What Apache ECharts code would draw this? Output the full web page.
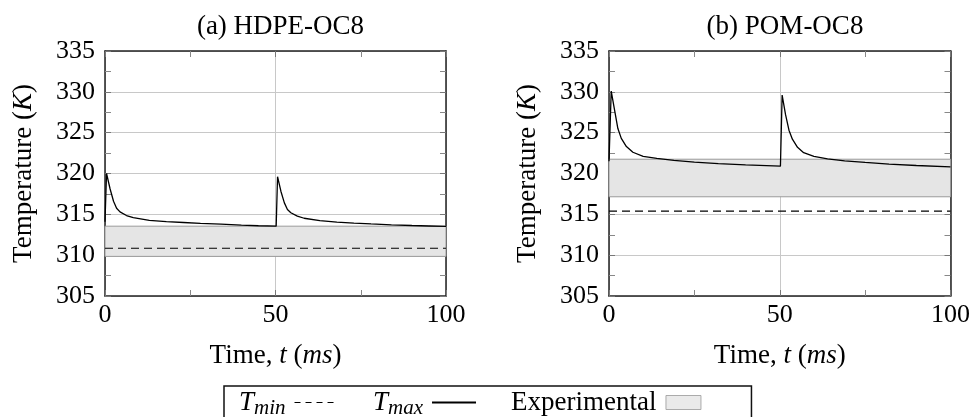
<!DOCTYPE html>
<html>
<head>
<meta charset="utf-8">
<script src="https://cdn.jsdelivr.net/npm/echarts@6/dist/echarts.min.js"></script>
<style>
  html, body { margin: 0; padding: 0; background: #fff; }
  #chart { width: 973px; height: 417px; }
</style>
</head>
<body>
<div id="chart"></div>
<script>
// (a) HDPE-OC8 : time (ms) and max temperature (K)
const hdpeTime = [0, 0.45, 1.5, 2.5, 3.4, 4.4, 6.3, 8.3, 13, 18, 23, 28, 34, 40, 45, 50.2,
  50.6, 51.6, 52.6, 53.5, 54.5, 56.4, 58.4, 63, 68, 73, 78, 84, 90, 95, 100]
const hdpeTmax = [314.1, 320.0, 318.1, 316.6, 315.75, 315.3, 314.85, 314.6, 314.27, 314.1, 314.0, 313.9, 313.8, 313.68, 313.6, 313.55,
  319.6, 317.8, 316.4, 315.6, 315.2, 314.78, 314.52, 314.22, 314.05, 313.92, 313.82, 313.72, 313.63, 313.57, 313.52]
const hdpeTmin = 310.85
const hdpeExp = [309.85, 313.55]

// (b) POM-OC8
const pomTime = [0, 0.65, 1.7, 2.6, 3.6, 5.1, 7, 10, 14, 19, 25, 32, 40, 50.2,
  50.7, 51.7, 52.7, 53.7, 55.2, 57, 60, 64, 69, 75, 82, 90, 100]
const pomTmax = [321.5, 330.1, 327.6, 325.5, 324.3, 323.3, 322.6, 322.1, 321.85, 321.6, 321.4, 321.2, 321.05, 320.9,
  329.6, 327.2, 325.3, 324.2, 323.2, 322.55, 322.1, 321.8, 321.55, 321.35, 321.15, 320.98, 320.8]
const pomTmin = 315.4
const pomExp = [317.15, 321.75]

const titles = ['(a) HDPE-OC8', '(b) POM-OC8']
const xTicks = [0, 50, 100]
const yRange = [305, 335]

const FONT = '"Liberation Serif", "DejaVu Serif", serif'
const FS = 26
const FN = 27

const chart = echarts.init(document.getElementById('chart'))

const grids = [
  { left: 105, right: 527, top: 51, height: 245 },
  { left: 609, right: 22, top: 51, height: 245 }
]

const tickStyle = { show: true, inside: true, length: 6, lineStyle: { color: '#777', width: 1 } }
const minorStyle = { show: true, splitNumber: 2, length: 6, lineStyle: { color: '#888', width: 1 } }
const borderLine = { show: true, onZero: false, lineStyle: { color: '#222', width: 1.5 } }
const nameRich = {
  n: { fontFamily: FONT, fontSize: FN, color: '#000' },
  i: { fontFamily: FONT, fontSize: FN, fontStyle: 'italic', color: '#000' }
}

const xAxes = []
const yAxes = []
grids.forEach((g, i) => {
  xAxes.push({
    type: 'value', gridIndex: i, min: xTicks[0], max: xTicks[2], interval: 50,
    axisLine: borderLine, axisTick: tickStyle, minorTick: minorStyle,
    splitLine: { show: true, lineStyle: { color: '#c8c8c8', width: 1 } },
    axisLabel: { fontFamily: FONT, fontSize: FS, color: '#000', margin: 6 },
    name: '{n|Time, }{i|t}{n| (}{i|ms}{n|)}',
    nameLocation: 'middle', nameGap: 46,
    nameTextStyle: { rich: nameRich }
  })
  xAxes.push({
    type: 'value', gridIndex: i, position: 'top', min: xTicks[0], max: xTicks[2], interval: 50,
    axisLine: borderLine, axisTick: tickStyle, minorTick: minorStyle,
    splitLine: { show: false }, axisLabel: { show: false }
  })
  yAxes.push({
    type: 'value', gridIndex: i, min: yRange[0], max: yRange[1], interval: 5,
    axisLine: borderLine, axisTick: tickStyle, minorTick: minorStyle,
    splitLine: { show: true, lineStyle: { color: '#c8c8c8', width: 1 } },
    axisLabel: { fontFamily: FONT, fontSize: FS, color: '#000', margin: 10 },
    name: '{n|Temperature (}{i|K}{n|)}',
    nameLocation: 'middle', nameGap: 68, nameRotate: 90,
    nameTextStyle: { rich: nameRich }
  })
  yAxes.push({
    type: 'value', gridIndex: i, position: 'right', min: yRange[0], max: yRange[1], interval: 5,
    axisLine: borderLine, axisTick: tickStyle, minorTick: minorStyle,
    splitLine: { show: false }, axisLabel: { show: false }
  })
})

const sets = [
  { time: hdpeTime, tmax: hdpeTmax, tmin: hdpeTmin, exp: hdpeExp },
  { time: pomTime, tmax: pomTmax, tmin: pomTmin, exp: pomExp }
]

const series = []
sets.forEach((s, i) => {
  series.push({
    name: 'Experimental', type: 'scatter', xAxisIndex: i * 2, yAxisIndex: i * 2,
    data: [], silent: true,
    itemStyle: { color: '#e5e5e5', borderColor: '#999', borderWidth: 1 },
    markArea: {
      silent: true,
      itemStyle: { color: '#e5e5e5', borderColor: '#9a9a9a', borderWidth: 1 },
      data: [[{ yAxis: s.exp[0] }, { yAxis: s.exp[1] }]]
    },
    z: 1
  })
  series.push({
    name: 'Tmin', type: 'line', xAxisIndex: i * 2, yAxisIndex: i * 2,
    symbol: 'none',
    lineStyle: { color: '#000', width: 1.2, type: [8, 5] },
    itemStyle: { color: '#000' },
    data: [[xTicks[0], s.tmin], [xTicks[2], s.tmin]], z: 3
  })
  series.push({
    name: 'Tmax', type: 'line', xAxisIndex: i * 2, yAxisIndex: i * 2,
    symbol: 'none',
    lineStyle: { color: '#000', width: 1.3 },
    itemStyle: { color: '#000' },
    data: s.time.map((t, k) => [t, s.tmax[k]]), z: 4
  })
})

chart.setOption({
  animation: false,
  title: titles.map((t, i) => ({
    text: t,
    left: i === 0 ? 275.5 : 780,
    top: 8,
    textAlign: 'center',
    textStyle: { fontFamily: FONT, fontSize: FN, fontWeight: 'normal', color: '#000' }
  })),
  grid: grids,
  xAxis: xAxes,
  yAxis: yAxes,
  legend: {
    left: 224, top: 386,
    align: 'right',
    orient: 'horizontal',
    itemWidth: 44, itemHeight: 14, itemGap: 34,
    padding: [3, 50, 30, 15],
    borderColor: '#111', borderWidth: 1.5,
    selectedMode: false,
    data: [
      { name: 'Tmin', itemStyle: { opacity: 0 }, lineStyle: { type: [6, 5], width: 1 } },
      { name: 'Tmax', itemStyle: { opacity: 0 } },
      { name: 'Experimental', icon: 'path://M0,0L35,0L35,14L0,14Z', itemStyle: { color: '#e5e5e5', borderColor: '#999', borderWidth: 1 } }
    ],
    formatter: function (name) {
      if (name === 'Tmin') return '{i|T}{s|min}'
      if (name === 'Tmax') return '{i|T}{s|max}'
      return '{n|' + name + '}'
    },
    textStyle: {
      fontFamily: FONT, fontSize: FN, color: '#000',
      rich: {
        n: { fontFamily: FONT, fontSize: FN, color: '#000' },
        i: { fontFamily: FONT, fontSize: FN, fontStyle: 'italic', color: '#000' },
        s: { fontFamily: FONT, fontSize: 21, fontStyle: 'italic', color: '#000', padding: [12, 4, 0, 0] }
      }
    }
  },
  series: series
})
</script>
</body>
</html>
